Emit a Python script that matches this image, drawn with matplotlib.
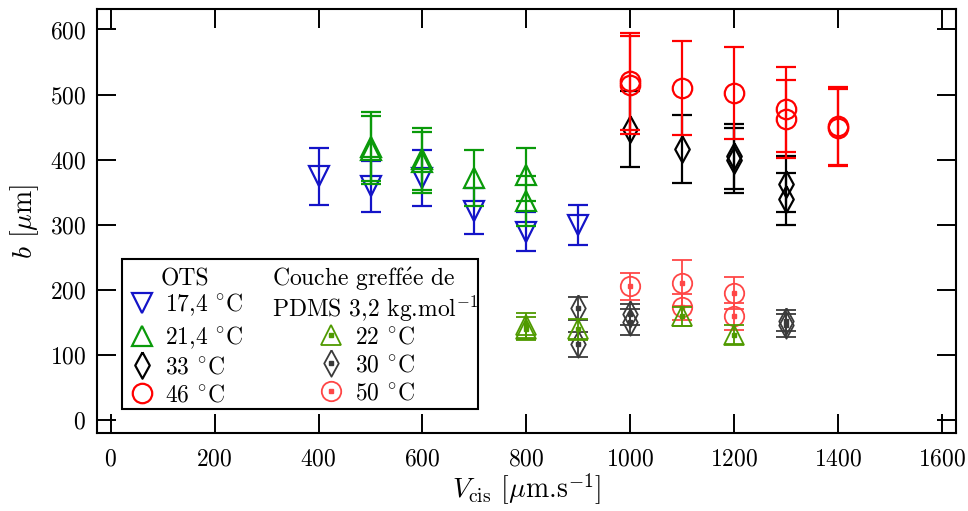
import matplotlib

matplotlib.use("Agg")
import matplotlib.pyplot as plt
from matplotlib.lines import Line2D
from matplotlib.patches import Rectangle

plt.rcParams["font.family"] = ["cmr10", "DejaVu Serif"]
plt.rcParams["mathtext.fontset"] = "cm"
plt.rcParams["axes.formatter.use_mathtext"] = True
plt.rcParams["font.size"] = 17

# OTS series: (V_cis, b, error)
ots_174_x = [400, 500, 600, 700, 800, 900]
ots_174_y = [374, 359, 372, 321, 289, 299]
ots_174_e = [44, 39, 43, 36, 30, 31]

ots_214_x = [500, 500, 600, 600, 700, 800, 800]
ots_214_y = [420, 415, 401, 396, 371, 377, 336]
ots_214_e = [53, 52, 48, 47, 43, 40, 38]

ots_33_x = [1000, 1100, 1200, 1200, 1300, 1300]
ots_33_y = [447, 416, 405, 399, 362, 340]
ots_33_e = [58, 52, 50, 50, 43, 40]

ots_46_x = [1000, 1000, 1100, 1200, 1300, 1300, 1400, 1400]
ots_46_y = [520, 515, 510, 502, 477, 463, 451, 449]
ots_46_e = [75, 75, 73, 71, 65, 60, 60, 59]

# PDMS grafted layer series
pdms_22_x = [800, 800, 900, 1100, 1200]
pdms_22_y = [145, 140, 139, 159, 131]
pdms_22_e = [19, 18, 16, 15, 14]

pdms_30_x = [900, 900, 1000, 1000, 1300, 1300]
pdms_30_y = [171, 116, 162, 150, 152, 145]
pdms_30_e = [18, 19, 16, 20, 16, 18]

pdms_50_x = [1000, 1100, 1100, 1200, 1200]
pdms_50_y = [205, 210, 173, 195, 159]
pdms_50_e = [21, 35, 20, 25, 21]

DEG = r"$^{\circ}$C"
DIAMOND = [(0, 1), (0.55, 0), (0, -1), (-0.55, 0), (0, 1)]

OTS = [
    ("17,4 " + DEG, ots_174_x, ots_174_y, ots_174_e, "v", 15, "#1414c8"),
    ("21,4 " + DEG, ots_214_x, ots_214_y, ots_214_e, "^", 15, "#0a9a0a"),
    ("33 " + DEG, ots_33_x, ots_33_y, ots_33_e, DIAMOND, 19, "black"),
    ("46 " + DEG, ots_46_x, ots_46_y, ots_46_e, "o", 14, "#ff0000"),
]
PDMS = [
    ("50 " + DEG, pdms_50_x, pdms_50_y, pdms_50_e, "o", 14, "#ff4646"),
    ("30 " + DEG, pdms_30_x, pdms_30_y, pdms_30_e, DIAMOND, 19, "#3a3a3a"),
    ("22 " + DEG, pdms_22_x, pdms_22_y, pdms_22_e, "^", 15, "#4f9a00"),
]

fig = plt.figure(figsize=(9.68, 5.11), dpi=100)
ax = fig.add_axes([0.1005, 0.1532, 0.8871, 0.8286])

ots_handles = []
for label, x, y, e, mk, ms, col in OTS:
    ax.errorbar(
        x, y, yerr=e, fmt="none", ecolor=col, elinewidth=1.6,
        capsize=7, capthick=1.6,
    )
    ax.plot(x, y, marker=mk, ms=ms, mfc="none", mec=col, mew=1.6, lw=0)
    ots_handles.append(
        Line2D([0], [0], marker=mk, ms=ms, mfc="none", mec=col, mew=1.6, lw=0)
    )

pdms_handles = {}
for label, x, y, e, mk, ms, col in PDMS:
    ax.errorbar(
        x, y, yerr=e, fmt="none", ecolor=col, elinewidth=1.3,
        capsize=7, capthick=1.3,
    )
    ax.plot(x, y, marker=mk, ms=ms, mfc="none", mec=col, mew=1.3, lw=0)
    ax.plot(x, y, "s", ms=2.6, color=col, lw=0)
    pdms_handles[label] = (
        Line2D([0], [0], marker=mk, ms=ms, mfc="none", mec=col, mew=1.3, lw=0),
        Line2D([0], [0], marker="s", ms=2.6, color=col, lw=0),
    )

ax.set_xlim(-26, 1627)
ax.set_ylim(-20, 631)
ax.set_xticks(range(0, 1601, 200))
ax.set_yticks(range(0, 601, 100))
ax.tick_params(direction="in", length=13.5, width=1.4, top=True, right=True,
               labelsize=17)
ax.tick_params(axis="x", pad=11)
ax.tick_params(axis="y", pad=8)
for sp in ax.spines.values():
    sp.set_linewidth(1.5)

ax.set_xlabel(r"$V_{\rm cis}$ [$\mu$m.s$^{-1}$]", fontsize=20, labelpad=1)
ax.set_ylabel(r"$b$ [$\mu$m]", fontsize=20, labelpad=6)

# legend frame and headers
ax.add_patch(Rectangle((0.029, 0.056), 0.4145, 0.354, transform=ax.transAxes,
                       fc="white", ec="black", lw=1.5, zorder=5))
ax.text(0.102, 0.362, "OTS", transform=ax.transAxes, ha="center", va="center",
        zorder=6)
ax.text(0.2035, 0.362, r"Couche greff$\acute{\rm e}$e de",
        transform=ax.transAxes, ha="left", va="center", zorder=6)
ax.text(0.2035, 0.293, r"PDMS 3,2 kg.mol$^{-1}$", transform=ax.transAxes,
        ha="left", va="center", zorder=6)

leg_kw = dict(frameon=False, borderpad=0, borderaxespad=0, handlelength=1.15,
              handletextpad=0.42, labelspacing=0.25, fontsize=17)
leg1 = ax.legend(ots_handles, [o[0] for o in OTS], loc="center left",
                 bbox_to_anchor=(0.0358, 0.197), **leg_kw)
leg1.set_zorder(7)
ax.add_artist(leg1)
order = ["22 " + DEG, "30 " + DEG, "50 " + DEG]
leg2 = ax.legend([pdms_handles[k] for k in order], order, loc="center left",
                 bbox_to_anchor=(0.2564, 0.160), **leg_kw)
leg2.set_zorder(7)

fig.savefig("out.png", dpi=100)
